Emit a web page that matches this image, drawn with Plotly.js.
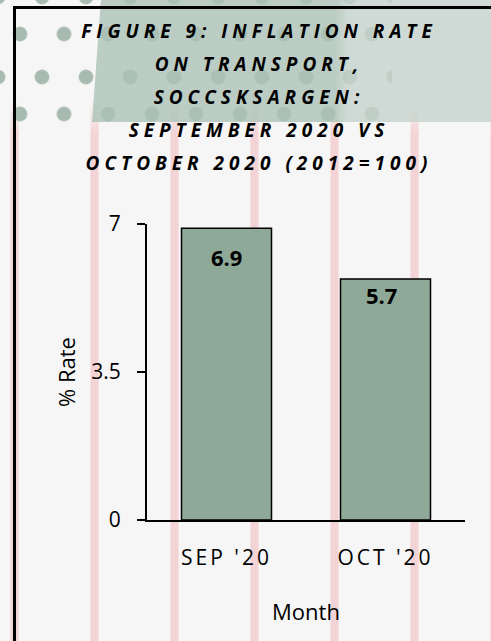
<!DOCTYPE html>
<html>
<head>
<meta charset="utf-8">
<script src="https://cdn.plot.ly/plotly-3.0.1.min.js"></script>
<style>
  html, body { margin:0; padding:0; background:#f6f6f6; }
  #wrap { position:relative; width:491px; height:641px; overflow:hidden; background:#f6f6f6; }
  .layer { position:absolute; left:0; top:0; }
  #stripes { width:491px; height:641px;
    background: repeating-linear-gradient(90deg, transparent 0 10px, #f6e2e3 10px 11px, #f3d3d5 11px 18px, #f6e2e3 18px 19px, transparent 19px 80px);
    -webkit-mask-image: linear-gradient(180deg, transparent 0, transparent 100px, #000 135px);
    mask-image: linear-gradient(180deg, transparent 0, transparent 100px, #000 135px); }
  #dots { width:392px; height:126px;
    background:
      radial-gradient(circle at 22px 40px, #a7bbb0 0 6.5px, rgba(167,187,176,0) 8px) 20px 37px / 44px 80px repeat,
      radial-gradient(circle at 22px 40px, #a7bbb0 0 6.5px, rgba(167,187,176,0) 8px) -2px -6px / 44px 80px repeat; }
  #band { width:491px; height:122px;
    clip-path: polygon(101px 0, 491px 0, 491px 122px, 92px 122px);
    background: linear-gradient(90deg, rgba(172,194,183,0.8) 0, rgba(172,194,183,0.8) 335px, rgba(198,211,205,0.8) 348px, rgba(198,211,205,0.8) 491px); }
  #frame { left:13px; top:6px; width:600px; height:700px; border:3.5px solid #000; box-sizing:border-box; }
  #chart { left:0; top:0; width:491px; height:641px; }
  .gtitle { letter-spacing: 5px; }
  .xtick text { letter-spacing: 3px; }
</style>
</head>
<body>
<div id="wrap">
  <div id="stripes" class="layer"></div>
  <div id="dots" class="layer"></div>
  <div id="band" class="layer"></div>
  <div id="frame" class="layer"></div>
  <div id="chart" class="layer"></div>
</div>
<script>
// ---- data ----
const categories = ["SEP '20", "OCT '20"];
const values = [6.9, 5.7];
const yTickVals = [0, 3.5, 7];
const yTickText = ["0", "3.5", "7"];
const titleLines = ["FIGURE 9: INFLATION RATE", "ON TRANSPORT,", "SOCCSKSARGEN:", "SEPTEMBER 2020 VS", "OCTOBER 2020 (2012=100)"];
const xTitle = "Month";
const yTitle = "% Rate";

// ---- label / title placement (style only) ----
const labelShiftY = [-29, -16];
const labelShiftX = [0, -4];
const titleFirstBaseline = 38;
const titleLineGap = 33;

const trace = {
  type: 'bar',
  x: categories,
  y: values,
  width: 0.566,
  marker: { color: '#8fa998', line: { color: '#000000', width: 1.5 } },
  hoverinfo: 'none'
};

const annotations = values.map((v, i) => ({
  x: categories[i], y: v, xref: 'x', yref: 'y',
  text: String(v), showarrow: false,
  xanchor: 'center', yanchor: 'middle',
  yshift: labelShiftY[i], xshift: labelShiftX[i],
  font: { family: 'Open Sans', size: 22, weight: 700, color: '#000000' }
}));

const layout = {
  width: 491, height: 641,
  margin: { l: 147, r: 26, t: 224, b: 121, pad: 0 },
  paper_bgcolor: 'rgba(0,0,0,0)',
  plot_bgcolor: 'rgba(0,0,0,0)',
  showlegend: false,
  font: { family: 'Open Sans', color: '#000000' },
  title: {
    text: titleLines.join('<br>'),
    font: { family: 'Open Sans', size: 19, weight: 700, style: 'italic', color: '#000000' },
    x: 259 / 491, xref: 'container', xanchor: 'center',
    y: 1 - 22 / 641, yref: 'container', yanchor: 'top'
  },
  xaxis: {
    type: 'category', range: [-0.5, 1.5],
    showline: true, linecolor: '#000000', linewidth: 2,
    ticks: '', showgrid: false, zeroline: false,
    tickfont: { family: 'Open Sans', size: 21, color: '#000000' },
    ticklabelstandoff: 18,
    title: { text: xTitle, font: { family: 'Open Sans', size: 22, color: '#000000' }, standoff: 34 },
    automargin: false, fixedrange: true
  },
  yaxis: {
    range: [0, 7], tickvals: yTickVals, ticktext: yTickText,
    ticks: 'outside', ticklen: 8, tickwidth: 2, tickcolor: '#000000',
    showline: true, linecolor: '#000000', linewidth: 2,
    showgrid: false, zeroline: false,
    tickfont: { family: 'Open Sans', size: 21, color: '#000000' },
    ticklabelstandoff: 12,
    title: { text: yTitle, font: { family: 'Open Sans', size: 22, color: '#000000' }, standoff: 10 },
    automargin: false, fixedrange: true
  },
  annotations: annotations
};

Plotly.newPlot('chart', [trace], layout, { displayModeBar: false, staticPlot: true }).then(() => {
  const t = document.querySelector('.gtitle');
  if (!t) return;
  t.removeAttribute('transform');
  t.removeAttribute('dy');
  t.setAttribute('y', titleFirstBaseline);
  const lines = Array.from(t.querySelectorAll('tspan.line'));
  const offset = titleLines.length - lines.length;   // first line may be plain text
  lines.forEach((ln, i) => {
    ln.removeAttribute('dy');
    ln.setAttribute('y', titleFirstBaseline + (i + offset) * titleLineGap);
  });
});
</script>
</body>
</html>
